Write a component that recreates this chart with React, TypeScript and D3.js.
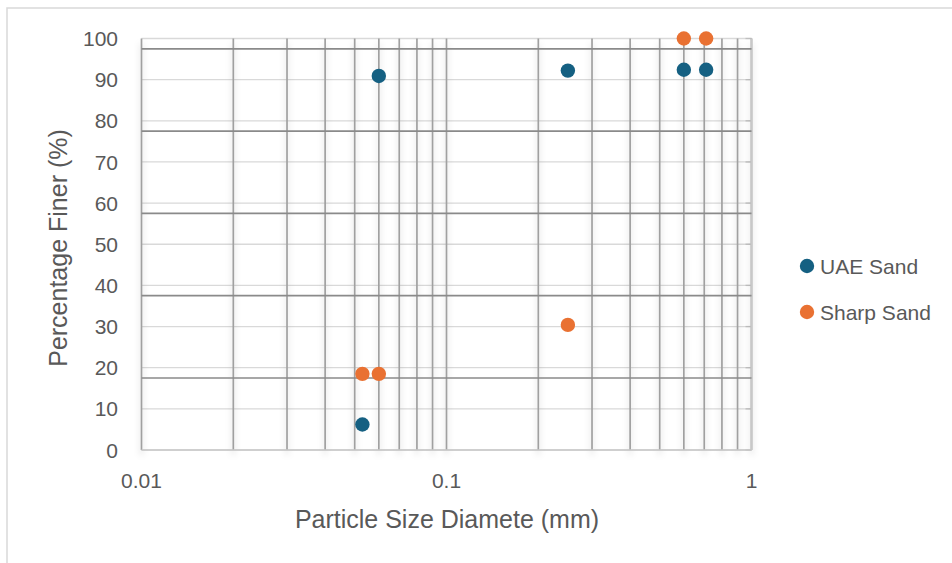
import React from 'react';
import * as d3 from 'd3';

// particle size (mm) and percentage finer for each sand
const uaeSize = [0.053, 0.06, 0.25, 0.6, 0.71];
const uaeFiner = [6.2, 90.9, 92.2, 92.4, 92.4];
const sharpSize = [0.053, 0.06, 0.25, 0.6, 0.71];
const sharpFiner = [18.5, 18.5, 30.4, 100, 100];

const xTickLabels = ['0.01', '0.1', '1'];
const yTicks = [0, 10, 20, 30, 40, 50, 60, 70, 80, 90, 100];
const darkLines = [17.5, 37.5, 57.5, 77.5, 97.5];

const series = [
  { name: 'UAE Sand', color: '#156082', xs: uaeSize, ys: uaeFiner },
  { name: 'Sharp Sand', color: '#E97132', xs: sharpSize, ys: sharpFiner },
];

const W = 952, H = 563;
const font = '"Liberation Sans", Arial, sans-serif';
const textColor = '#595959';

const App = () => {
  const x = d3.scaleLog().domain([0.01, 1]).range([141.5, 751.5]);
  const y = d3.scaleLinear().domain([0, 100]).range([450, 38.5]);

  // 1..9 in every decade
  const vLines: number[] = [];
  [0.01, 0.1].forEach(dec => d3.range(1, 10).forEach(k => vLines.push(dec * k)));
  vLines.push(1);

  return (
    <svg width={W} height={H} style={{ position: 'absolute', left: 0, top: 0, background: '#fff' }}
      fontFamily={font}>
      <defs>
        <filter id="soft" x="-50%" y="-10%" width="200%" height="130%">
          <feDropShadow dx="0" dy="5" stdDeviation="3" floodColor="#000" floodOpacity="0.2" />
        </filter>
      </defs>
      <rect x={7} y={8} width={1200} height={1200} fill="#fff" stroke="#d9d9d9" strokeWidth={1.5} />

      {/* light gridlines */}
      {yTicks.map(t => (
        <line key={'h' + t} x1={x(0.01)} x2={x(1)} y1={y(t)} y2={y(t)} stroke="#d9d9d9" strokeWidth={1.3} />
      ))}
      {/* right side ticks */}
      {yTicks.map(t => (
        <line key={'rt' + t} x1={x(1) - 6} x2={x(1)} y1={y(t)} y2={y(t)} stroke="#bfbfbf" strokeWidth={1.3} />
      ))}

      <g filter="url(#soft)">
        {vLines.map((v, i) => (
          <line key={'v' + i} x1={x(v)} x2={x(v)} y1={y(100)} y2={y(0)} stroke="#a0a0a0" strokeWidth={1.7} />
        ))}
      </g>
      <line x1={x(1)} x2={x(1)} y1={y(100)} y2={y(0)} stroke="#c8c8c8" strokeWidth={2} />
      <line x1={x(0.01)} x2={x(1)} y1={y(0)} y2={y(0)} stroke="#c8c8c8" strokeWidth={1.5} />

      {darkLines.map(t => (
        <line key={'d' + t} x1={x(0.01)} x2={x(1)} y1={y(t)} y2={y(t)} stroke="#8a8a8a" strokeWidth={1.7} />
      ))}

      {/* y tick labels */}
      {yTicks.map(t => (
        <text key={'yl' + t} x={118} y={y(t)} dy="0.36em" textAnchor="end" fontSize={21} fill={textColor}>{t}</text>
      ))}
      {/* x tick labels */}
      {xTickLabels.map(l => (
        <text key={'xl' + l} x={x(+l)} y={488} textAnchor="middle" fontSize={21} fill={textColor}>{l}</text>
      ))}

      <text x={447} y={528} textAnchor="middle" fontSize={25} fill={textColor}>Particle Size Diamete (mm)</text>
      <text transform="translate(66.5,248) rotate(-90)" textAnchor="middle" fontSize={25} fill={textColor}>Percentage Finer (%)</text>

      {series.map(s => (
        <g key={s.name}>
          {s.xs.map((v, i) => (
            <circle key={i} cx={x(v)} cy={y(s.ys[i])} r={7.2} fill={s.color} />
          ))}
        </g>
      ))}

      {/* legend */}
      {series.map((s, i) => (
        <g key={'lg' + s.name} transform={`translate(807,${266 + i * 46})`}>
          <circle r={7.2} fill={s.color} />
          <text x={13} dy="0.36em" fontSize={21} fill={textColor}>{s.name}</text>
        </g>
      ))}
    </svg>
  );
};

export default App;
